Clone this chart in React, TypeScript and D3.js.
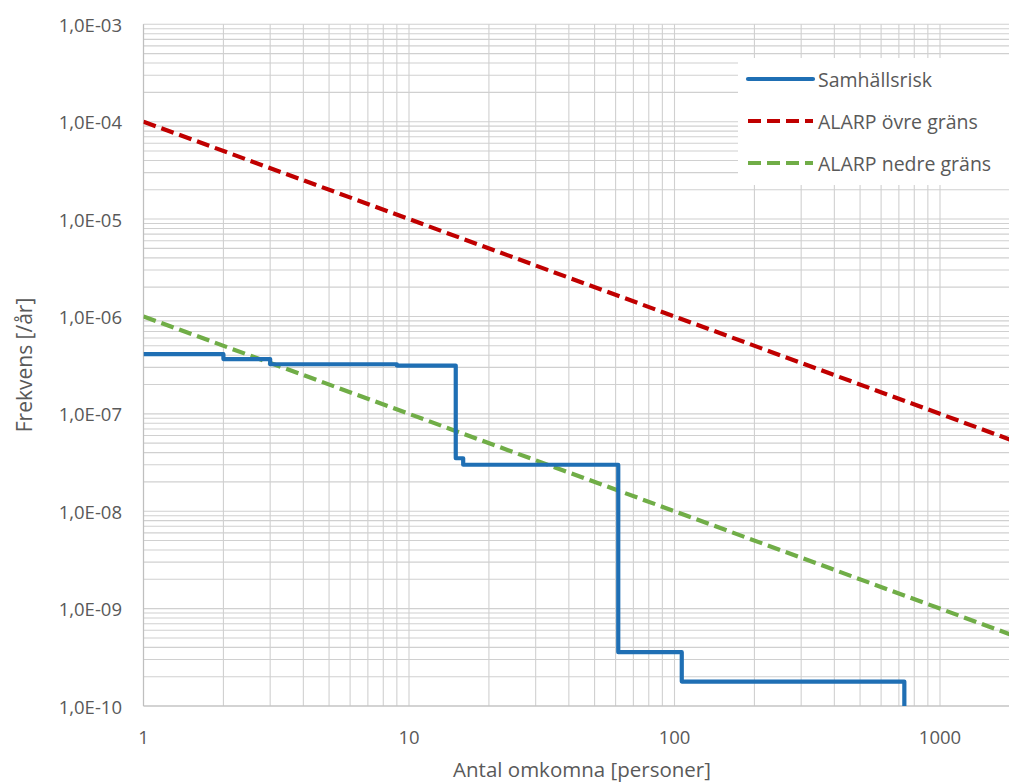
import React from "react";
import * as d3 from "d3";

const stepX = [1, 2, 3, 9, 15, 16, 61.4, 106.5, 734];
const stepY = [4.1e-7, 3.65e-7, 3.23e-7, 3.13e-7, 3.5e-8, 3.0e-8, 3.57e-10, 1.78e-10, 1e-12];
const upperK = 1e-4; // ALARP övre gräns: F = k / N
const lowerK = 1e-6; // ALARP nedre gräns
const lineN = [1, 10000];
const yTicks = [1e-3, 1e-4, 1e-5, 1e-6, 1e-7, 1e-8, 1e-9, 1e-10];
const xTicks = [1, 10, 100, 1000];
const legendNames = ["Samhällsrisk", "ALARP övre gräns", "ALARP nedre gräns"];
const colors = ["#1f6fb4", "#c00000", "#70ad47"];

const W = 1009;
const H = 784;
const L = 143.5;
const T = 24.3;
const B = 706;
const decadeX = 265.5;

export default function App() {
  const x = d3.scaleLog().domain([1, 10000]).range([L, L + 4 * decadeX]);
  const y = d3.scaleLog().domain([1e-10, 1e-3]).range([B, T]);
  const font = "'Open Sans', 'Noto Sans', sans-serif";

  const minorX: number[] = [];
  for (let e = 0; e < 4; e++) for (let m = 1; m <= 9; m++) minorX.push(m * Math.pow(10, e));
  const minorY: number[] = [];
  for (let e = -10; e < -3; e++) for (let m = 1; m <= 9; m++) minorY.push(m * Math.pow(10, e));
  minorY.push(1e-3);

  const stepLine = d3
    .line<number>()
    .x((_, i) => x(stepX[i]))
    .y((d) => y(d))
    .curve(d3.curveStepAfter);
  const straight = (k: number) =>
    d3
      .line<number>()
      .x((n) => x(n))
      .y((n) => y(k / n))(lineN) as string;

  const fmt = (v: number) => {
    const e = Math.round(Math.log10(v));
    return "1,0E-" + String(-e).padStart(2, "0");
  };

  return (
    <svg
      width={W}
      height={H}
      style={{ position: "absolute", left: 0, top: 0, background: "#fff" }}
    >
      <defs>
        <clipPath id="plot">
          <rect x={L} y={T - 3} width={W - L} height={B - T + 3} />
        </clipPath>
      </defs>
      <g stroke="#d0d0d0" strokeWidth={1.1}>
        {minorY.map((v, i) => (
          <line key={"y" + i} x1={L} x2={W} y1={y(v)} y2={y(v)} />
        ))}
        {minorX.map((v, i) =>
          x(v) <= W ? <line key={"x" + i} x1={x(v)} x2={x(v)} y1={T} y2={B} /> : null
        )}
      </g>
      <line x1={L} x2={L} y1={T} y2={B} stroke="#bfbfbf" strokeWidth={1.2} />
      <line x1={L} x2={W} y1={B} y2={B} stroke="#bfbfbf" strokeWidth={1.2} />
      <g clipPath="url(#plot)" fill="none">
        <path d={straight(upperK)} stroke={colors[1]} strokeWidth={4.2} strokeDasharray="13,6" />
        <path d={straight(lowerK)} stroke={colors[2]} strokeWidth={4.2} strokeDasharray="13,6" />
        <path
          d={stepLine(stepY) as string}
          stroke={colors[0]}
          strokeWidth={4.2}
          strokeLinejoin="round"
        />
      </g>
      <g fontFamily={font} fontSize={18.5} fill="#595959">
        {yTicks.map((v) => (
          <text key={v} x={122} y={y(v)} textAnchor="end" dominantBaseline="central">
            {fmt(v)}
          </text>
        ))}
        {xTicks.map((v) => (
          <text key={v} x={x(v)} y={736} textAnchor="middle" dominantBaseline="central">
            {v}
          </text>
        ))}
      </g>
      <text
        x={582}
        y={769}
        textAnchor="middle"
        dominantBaseline="central"
        fontFamily={font}
        fontSize={20.5}
        fill="#595959"
      >
        Antal omkomna [personer]
      </text>
      <text
        transform={`translate(24,365) rotate(-90)`}
        textAnchor="middle"
        dominantBaseline="central"
        fontFamily={font}
        fontSize={21}
        fill="#595959"
      >
        Frekvens [/år]
      </text>
      <g>
        <rect x={738} y={58} width={W - 738} height={127} fill="#fff" />
        {legendNames.map((n, i) => {
          const yy = 79 + i * 42;
          return (
            <g key={n}>
              <line
                x1={748}
                x2={813}
                y1={yy}
                y2={yy}
                stroke={colors[i]}
                strokeWidth={4.2}
                strokeDasharray={i === 0 ? undefined : "13,6"}
                strokeLinecap={i === 0 ? "round" : "butt"}
              />
              <text
                x={818}
                y={yy}
                dominantBaseline="central"
                fontFamily={font}
                fontSize={19.5}
                fill="#595959"
              >
                {n}
              </text>
            </g>
          );
        })}
      </g>
    </svg>
  );
}
